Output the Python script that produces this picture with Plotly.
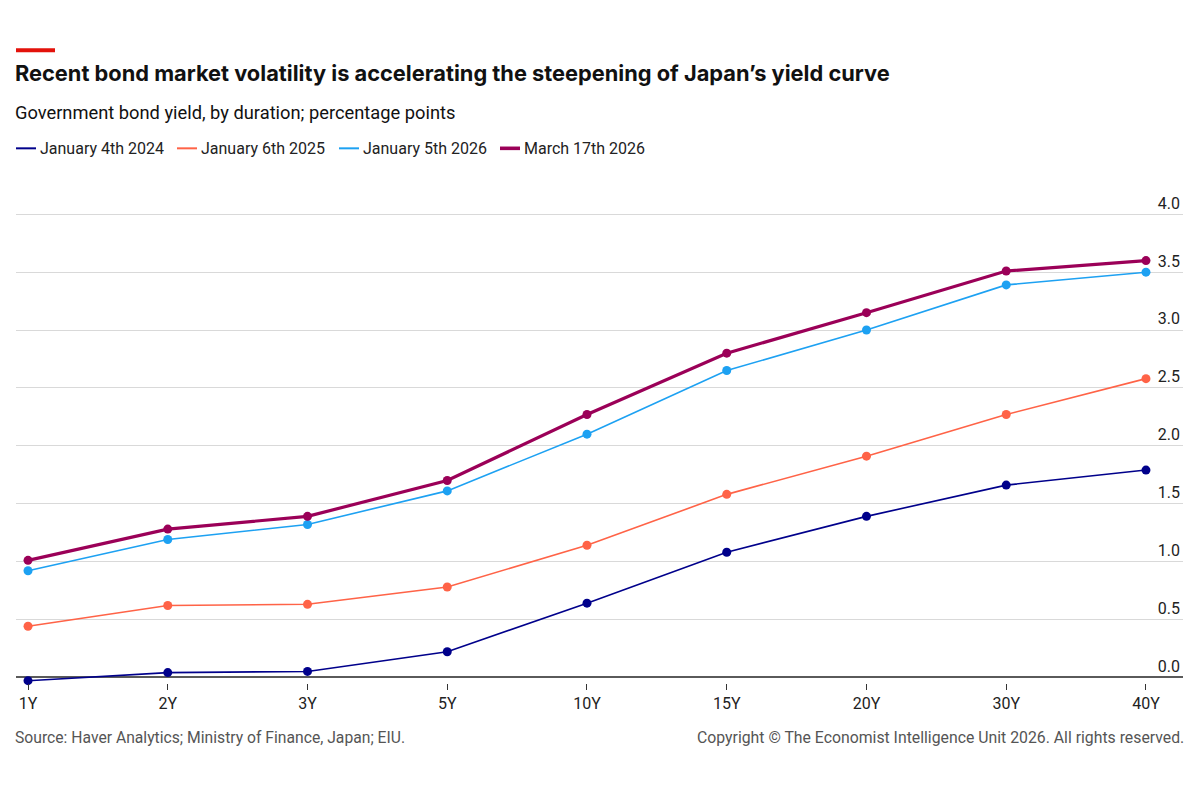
import plotly.graph_objects as go

maturities = ["1Y", "2Y", "3Y", "5Y", "10Y", "15Y", "20Y", "30Y", "40Y"]
jan_2024 = [-0.03, 0.04, 0.05, 0.22, 0.64, 1.08, 1.39, 1.66, 1.79]
jan_2025 = [0.44, 0.62, 0.63, 0.78, 1.14, 1.58, 1.91, 2.27, 2.58]
jan_2026 = [0.92, 1.19, 1.32, 1.61, 2.10, 2.65, 3.00, 3.39, 3.50]
mar_2026 = [1.01, 1.28, 1.39, 1.70, 2.27, 2.80, 3.15, 3.51, 3.60]
series_names = ["January 4th 2024", "January 6th 2025", "January 5th 2026", "March 17th 2026"]
y_ticks = [0.0, 0.5, 1.0, 1.5, 2.0, 2.5, 3.0, 3.5, 4.0]

colors = ["#00008b", "#ff6347", "#1da1f2", "#9b0058"]
widths = [1.6, 1.6, 1.6, 3.2]
FONT = "Roboto"

W, H = 1200, 800
y_lo, y_hi = -0.05, 4.02
px_per_unit = (677 - 214) / 4.0
top_px = 214 - (y_hi - 4.0) * px_per_unit
bot_px = 677 - y_lo * px_per_unit
mt, mb, ml, mr = top_px, H - bot_px, 16, 17
ph = H - mt - mb
pw = W - ml - mr

def py(p):
    return (H - mb - p) / ph

def pxx(p):
    return (p - ml) / pw

fig = go.Figure()
for name, vals, c, w in zip(series_names, [jan_2024, jan_2025, jan_2026, mar_2026], colors, widths):
    fig.add_trace(go.Scatter(
        x=maturities, y=vals, mode="lines+markers", name=name,
        line=dict(color=c, width=w), marker=dict(color=c, size=9),
        cliponaxis=False, showlegend=False, hoverinfo="x+y+name"))

# manual legend (line swatch + label)
legend_x = [16, 177, 339, 500]
shapes = [dict(type="rect", xref="paper", yref="paper",
               x0=0, x1=pxx(55), y0=py(52), y1=py(48),
               fillcolor="#e3120b", line=dict(width=0))]
annotations = []
for lx, name, c, w in zip(legend_x, series_names, colors, widths):
    shapes.append(dict(type="line", xref="paper", yref="paper",
                       x0=pxx(lx), x1=pxx(lx + 20), y0=py(148), y1=py(148),
                       line=dict(color=c, width=w + 0.4)))
    annotations.append(dict(text=name, xref="paper", yref="paper",
                            x=pxx(lx + 25), y=py(148), xanchor="left", yanchor="middle",
                            xshift=-3, showarrow=False,
                            font=dict(size=16, color="#222", family=FONT)))

annotations += [
    dict(text="<b>Recent bond market volatility is accelerating the steepening of Japan’s yield curve</b>",
         xref="paper", yref="paper", x=0, y=py(73), xanchor="left", yanchor="middle", xshift=-3,
         showarrow=False, font=dict(size=21.8, color="#111", family="Inter")),
    dict(text="Government bond yield, by duration; percentage points",
         xref="paper", yref="paper", x=0, y=py(112), xanchor="left", yanchor="middle", xshift=-3,
         showarrow=False, font=dict(size=18.3, color="#111", family=FONT)),
    dict(text="Source: Haver Analytics; Ministry of Finance, Japan; EIU.",
         xref="paper", yref="paper", x=0, y=py(737), xanchor="left", yanchor="middle", xshift=-3,
         showarrow=False, font=dict(size=15.7, color="#555", family=FONT)),
    dict(text="Copyright © The Economist Intelligence Unit 2026. All rights reserved.",
         xref="paper", yref="paper", x=1, y=py(737), xanchor="right", yanchor="middle", xshift=3,
         showarrow=False, font=dict(size=15.8, color="#555", family=FONT)),
]

fig.update_layout(
    width=W, height=H,
    margin=dict(l=ml, r=mr, t=mt, b=mb, pad=0),
    paper_bgcolor="white", plot_bgcolor="white",
    font=dict(family=FONT, size=16, color="#222"),
    showlegend=False,
    xaxis=dict(type="category", range=[-0.086, 8.265], showgrid=False, showline=False,
               ticks="outside", ticklen=6, tickwidth=1, tickcolor="#333",
               tickfont=dict(size=16, color="#222"), fixedrange=True),
    yaxis=dict(range=[y_lo, y_hi], tickvals=y_ticks, ticktext=[f"{v:.1f}" for v in y_ticks],
               side="right", ticklabelposition="inside top", ticklabeloverflow="allow",
               showgrid=True, gridcolor="#d9d9d9", gridwidth=1,
               zeroline=True, zerolinecolor="#5a5a5a", zerolinewidth=2,
               showline=False, ticks="", tickfont=dict(size=16, color="#222"), fixedrange=True),
    shapes=shapes,
    annotations=annotations,
)

fig.write_html("out.html")
